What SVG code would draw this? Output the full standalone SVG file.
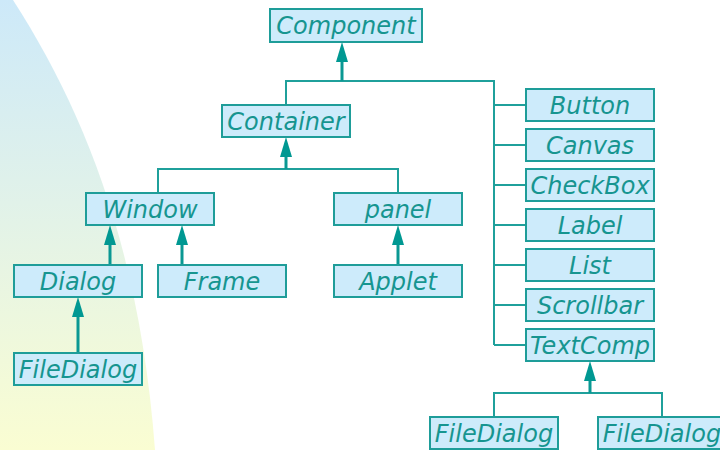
<svg xmlns="http://www.w3.org/2000/svg" width="720" height="450" viewBox="0 0 720 450">
<style>
.box{fill:#cdebfb;stroke:#1e9d99;stroke-width:2}
.lbl{font-family:"DejaVu Sans",sans-serif;font-style:italic;font-size:24px;fill:#169590;text-anchor:middle}
.ln{fill:none;stroke:#1fa09b;stroke-width:2}
.ar{fill:none;stroke:#0a9893;stroke-width:3;marker-end:url(#head)}
</style>
<defs>
<linearGradient id="bg" x1="0" y1="0" x2="0" y2="1">
<stop offset="0" stop-color="#cde9f9"/>
<stop offset="0.45" stop-color="#e1f2e9"/>
<stop offset="1" stop-color="#fafdd2"/>
</linearGradient>
<marker id="head" markerUnits="userSpaceOnUse" markerWidth="20" markerHeight="12" refX="0" refY="6" orient="auto" viewBox="0 0 20 12">
<path d="M0,0 L20,6 L0,12 Z" fill="#009892"/>
</marker>
</defs>
<rect width="720" height="450" fill="#ffffff"/>
<path d="M0,0 L13,0 C85,112 140,250 155,450 L0,450 Z" fill="url(#bg)"/>
<g id="connectors">
<path class="ln" d="M286,105 V81 H494 V345"/>
<path class="ln" d="M494,105 H526 M494,145 H526 M494,185 H526 M494,225 H526 M494,265 H526 M494,305 H526 M494,345 H526"/>
<path class="ln" d="M158,193 V169 H398 V193"/>
<path class="ln" d="M494,417 V393 H662 V417"/>
<line class="ar" x1="342" y1="81" x2="342" y2="62"/>
<line class="ar" x1="286" y1="169" x2="286" y2="157"/>
<line class="ar" x1="110" y1="265" x2="110" y2="245"/>
<line class="ar" x1="182" y1="265" x2="182" y2="245"/>
<line class="ar" x1="398" y1="265" x2="398" y2="245"/>
<line class="ar" x1="78" y1="353" x2="78" y2="317"/>
<line class="ar" x1="590" y1="393" x2="590" y2="381"/>
</g>
<g id="component"><rect class="box" x="270" y="9" width="152" height="33"/><text class="lbl" x="346" y="34">Component</text></g>
<g id="container"><rect class="box" x="222" y="105" width="128" height="32"/><text class="lbl" x="286" y="130">Container</text></g>
<g id="button"><rect class="box" x="526" y="89" width="128" height="32"/><text class="lbl" x="590" y="114">Button</text></g>
<g id="canvas"><rect class="box" x="526" y="129" width="128" height="32"/><text class="lbl" x="590" y="154">Canvas</text></g>
<g id="checkbox"><rect class="box" x="526" y="169" width="128" height="32"/><text class="lbl" x="590" y="194">CheckBox</text></g>
<g id="label"><rect class="box" x="526" y="209" width="128" height="32"/><text class="lbl" x="590" y="234">Label</text></g>
<g id="list"><rect class="box" x="526" y="249" width="128" height="32"/><text class="lbl" x="590" y="274">List</text></g>
<g id="scrollbar"><rect class="box" x="526" y="289" width="128" height="32"/><text class="lbl" x="590" y="314">Scrollbar</text></g>
<g id="textcomp"><rect class="box" x="526" y="329" width="128" height="32"/><text class="lbl" x="590" y="354">TextComp</text></g>
<g id="window"><rect class="box" x="86" y="193" width="128" height="32"/><text class="lbl" x="150" y="218">Window</text></g>
<g id="panel"><rect class="box" x="334" y="193" width="128" height="32"/><text class="lbl" x="398" y="218">panel</text></g>
<g id="dialog"><rect class="box" x="14" y="265" width="128" height="32"/><text class="lbl" x="78" y="290">Dialog</text></g>
<g id="frame"><rect class="box" x="158" y="265" width="128" height="32"/><text class="lbl" x="222" y="290">Frame</text></g>
<g id="applet"><rect class="box" x="334" y="265" width="128" height="32"/><text class="lbl" x="398" y="290">Applet</text></g>
<g id="filedialog1"><rect class="box" x="14" y="353" width="128" height="32"/><text class="lbl" x="78" y="378">FileDialog</text></g>
<g id="filedialog2"><rect class="box" x="430" y="417" width="128" height="32"/><text class="lbl" x="494" y="442">FileDialog</text></g>
<g id="filedialog3"><rect class="box" x="598" y="417" width="128" height="32"/><text class="lbl" x="662" y="442">FileDialog</text></g>
</svg>
